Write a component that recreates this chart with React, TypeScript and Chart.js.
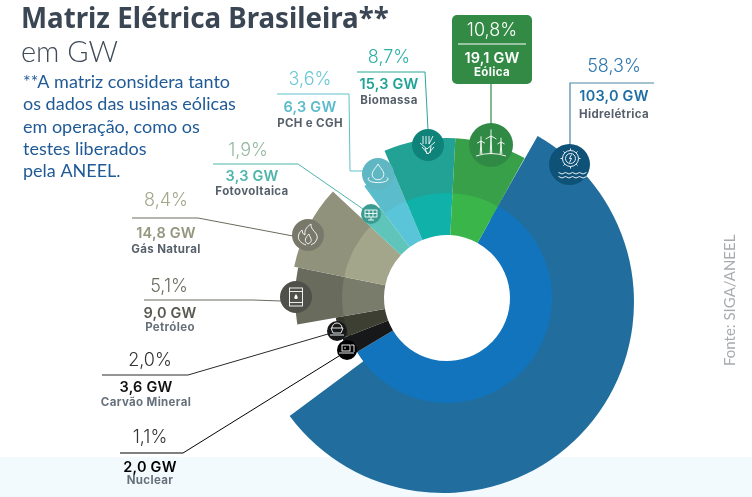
import React, { useEffect, useRef } from "react";
import { Chart, registerables } from "chart.js";

Chart.register(...registerables);

// ---- data ----
const categories = ["Hidrelétrica", "Nuclear", "Carvão Mineral", "Petróleo", "Gás Natural", "Fotovoltaica", "PCH e CGH", "Biomassa", "Eólica"];
const sharePct = [58.3, 1.1, 2.0, 5.1, 8.4, 1.9, 3.6, 8.7, 10.8];
const capacityGW = [103.0, 2.0, 3.6, 9.0, 14.8, 3.3, 6.3, 15.3, 19.1];
// The infographic is not drawn proportionally: these are the sweeps (degrees) as drawn.
const drawnSweepDeg = [210, 10, 11, 21.6, 31.4, 10.5, 13.5, 26, 26];
const noteLines = ["**A matriz considera tanto", "os dados das usinas eólicas", "em operação, como os", "testes liberados", "pela ANEEL."];

// ---- styles and layout ----
const W = 752, H = 497;
const outerColors = ["#216e9e", "#16181a", "#35372d", "#696b5d", "#91927b", "#5cc0b6", "#5bbccb", "#22a295", "#37a048"];
const innerColors = ["#1174bd", "#16181a", "#3d3f33", "#7a7c6b", "#a3a68a", "#5fc5ba", "#5ac5d8", "#10b1a8", "#3ab54a"];
const outerRadii = [191, 112, 113, 152, 156, 113, 139, 160, 160];
const HOLE = 63, RING = 105;
const SANS = '"Inter", "Lato", sans-serif';
const SOFT = '"Lato", "Noto Sans", sans-serif';
const HEAD = '"Noto Sans", "Lato", sans-serif';

type Lab = { pct: [number, number]; gw: [number, number]; nm: [number, number]; pc: string; gc: string; nc: string; };
const labels: Lab[] = [
  { pct: [614, 72], gw: [614, 101], nm: [614, 118], pc: "#2e77ad", gc: "#1f6ea3", nc: "#56606b" },
  { pct: [150, 443], gw: [150, 472], nm: [150, 484], pc: "#333333", gc: "#000000", nc: "#66707a" },
  { pct: [150, 366], gw: [146, 392], nm: [146, 406], pc: "#333333", gc: "#111111", nc: "#66707a" },
  { pct: [169, 292], gw: [170, 318], nm: [170, 331], pc: "#6a6c5f", gc: "#585a50", nc: "#66707a" },
  { pct: [166, 206], gw: [166, 238], nm: [166, 253], pc: "#a3a68a", gc: "#94967e", nc: "#56606b" },
  { pct: [248, 156], gw: [252, 181], nm: [252, 195], pc: "#93b8a0", gc: "#4fb5ab", nc: "#56606b" },
  { pct: [310, 85], gw: [310, 112], nm: [310, 127], pc: "#69c6d4", gc: "#5cbccb", nc: "#56606b" },
  { pct: [389, 63], gw: [389, 89], nm: [389, 104], pc: "#2bb0a5", gc: "#1fa396", nc: "#56606b" },
  { pct: [492, 36], gw: [492, 63], nm: [492, 76], pc: "#ffffff", gc: "#ffffff", nc: "#ffffff" },
];
const leaders: { c: string; w: number; p: number[][] }[] = [
  { c: "#4a85a6", w: 1.2, p: [[654, 83], [570, 83], [570, 146]] },
  { c: "#000000", w: 1, p: [[120, 453], [183, 453], [339, 356]] },
  { c: "#2a2a2a", w: 1, p: [[102, 375], [188, 375], [328, 334]] },
  { c: "#6a6b5e", w: 1, p: [[144, 300], [253, 300], [281, 301]] },
  { c: "#6b6c5c", w: 1, p: [[132, 218], [198, 218], [293, 236]] },
  { c: "#4fb5ab", w: 1, p: [[213, 164], [298, 164], [363, 209]] },
  { c: "#5fc2cc", w: 1, p: [[277, 94], [349, 94], [350, 171], [363, 171]] },
  { c: "#2aa69a", w: 1, p: [[357, 72], [425, 72], [428, 130]] },
  { c: "#308a45", w: 1.2, p: [[491, 84], [491, 124]] },
];
const badges: { x: number; y: number; r: number; c: string }[] = [
  { x: 569.5, y: 164.5, r: 20.5, c: "#0f5278" },
  { x: 347, y: 350, r: 10, c: "#000000" },
  { x: 337, y: 331, r: 10, c: "#16181a" },
  { x: 296, y: 297, r: 16, c: "#4f5049" },
  { x: 308, y: 235, r: 16, c: "#78796a" },
  { x: 371, y: 214, r: 10, c: "#3a9c91" },
  { x: 378, y: 174, r: 16, c: "#5fb7c4" },
  { x: 428, y: 145, r: 16, c: "#0f8279" },
  { x: 491, y: 145, r: 22, c: "#308a45" },
];

const fmt = (v: number) => v.toFixed(1).replace(".", ",");

function poly(ctx: CanvasRenderingContext2D, pts: number[][], close = false) {
  ctx.beginPath();
  pts.forEach((q, i) => (i ? ctx.lineTo(q[0], q[1]) : ctx.moveTo(q[0], q[1])));
  if (close) ctx.closePath();
  ctx.stroke();
}
function turbine(ctx: CanvasRenderingContext2D, x: number, y: number, h: number) {
  const b = h * 0.3;
  poly(ctx, [[x - 0.8, y + h], [x, y], [x + 0.8, y + h]]);
  poly(ctx, [[x, y], [x, y - b * 1.2]]);
  poly(ctx, [[x, y], [x - b, y + b * 0.55]]);
  poly(ctx, [[x, y], [x + b, y + b * 0.55]]);
}
const iconPainters: ((c: CanvasRenderingContext2D, x: number, y: number) => void)[] = [
  (c, x, y) => { // gear and waves
    c.beginPath(); c.arc(x + 1, y - 6, 5, 0, Math.PI * 2); c.stroke();
    c.beginPath(); c.arc(x + 1, y - 6, 8, 0, Math.PI * 2); c.stroke();
    for (let i = 0; i < 8; i++) {
      const a = (i * Math.PI) / 4;
      poly(c, [[x + 1 + 8 * Math.cos(a), y - 6 + 8 * Math.sin(a)], [x + 1 + 10 * Math.cos(a), y - 6 + 10 * Math.sin(a)]]);
    }
    poly(c, [[x + 2, y - 10], [x, y - 6], [x + 2, y - 6], [x, y - 2]]);
    for (const dy of [8, 12]) {
      c.beginPath();
      for (let i = -11; i < 11; i += 7) { c.moveTo(x + i, y + dy); c.quadraticCurveTo(x + i + 3.5, y + dy + 3, x + i + 7, y + dy); }
      c.stroke();
    }
  },
  (c, x, y) => { // nuclear plant
    c.strokeRect(x - 5, y - 5, 8, 6);
    poly(c, [[x - 8, y + 3], [x + 7, y + 3]]);
    poly(c, [[x + 4, y - 5], [x + 7, y - 5], [x + 7, y + 2]]);
    poly(c, [[x - 2, y - 3], [x - 2, y - 1]]);
  },
  (c, x, y) => { // coal wagon
    poly(c, [[x - 6, y - 3], [x + 6, y - 3], [x + 4, y + 2], [x - 4, y + 2]], true);
    poly(c, [[x - 7, y + 4], [x + 7, y + 4]]);
    c.beginPath(); c.arc(x, y - 3, 5, Math.PI, 0); c.stroke();
  },
  (c, x, y) => { // barrel
    c.strokeRect(x - 6.5, y - 9, 13, 18);
    poly(c, [[x - 6.5, y - 5.5], [x + 6.5, y - 5.5]]);
    poly(c, [[x - 6.5, y + 5.5], [x + 6.5, y + 5.5]]);
    c.beginPath(); c.moveTo(x, y - 3); c.quadraticCurveTo(x + 3.5, y + 2, x, y + 2); c.quadraticCurveTo(x - 3.5, y + 2, x, y - 3);
    c.fillStyle = "#ffffff"; c.fill();
  },
  (c, x, y) => { // flames
    c.beginPath(); c.moveTo(x - 2, y + 10);
    c.bezierCurveTo(x - 13, y + 6, x - 10, y - 2, x - 6, y - 5);
    c.quadraticCurveTo(x - 6, y - 1, x - 3, y);
    c.bezierCurveTo(x - 4, y - 6, x, y - 9, x + 3, y - 11);
    c.bezierCurveTo(x + 2, y - 5, x + 11, y - 2, x + 9, y + 4);
    c.quadraticCurveTo(x + 8, y + 8, x + 3, y + 10);
    c.stroke();
    c.beginPath(); c.moveTo(x, y + 9);
    c.bezierCurveTo(x - 5, y + 6, x - 2, y + 2, x + 1, y - 1);
    c.bezierCurveTo(x + 2, y + 3, x + 6, y + 6, x, y + 9);
    c.stroke();
  },
  (c, x, y) => { // solar panel
    poly(c, [[x - 6, y - 4], [x + 6, y - 4], [x + 6, y + 3], [x - 6, y + 3]], true);
    poly(c, [[x - 6, y - 0.5], [x + 6, y - 0.5]]);
    poly(c, [[x - 2, y - 4], [x - 2, y + 3]]);
    poly(c, [[x + 2, y - 4], [x + 2, y + 3]]);
    poly(c, [[x, y + 3], [x, y + 6]]);
    poly(c, [[x - 3, y + 6], [x + 3, y + 6]]);
  },
  (c, x, y) => { // drop and ripple
    c.beginPath(); c.moveTo(x, y - 10);
    c.bezierCurveTo(x + 3, y - 5, x + 7, y - 2, x + 5.5, y + 2);
    c.bezierCurveTo(x + 4, y + 7, x - 4, y + 7, x - 5.5, y + 2);
    c.bezierCurveTo(x - 7, y - 2, x - 3, y - 5, x, y - 10);
    c.stroke();
    c.beginPath(); c.ellipse(x, y + 5, 10, 3.6, 0, -0.15 * Math.PI, 1.15 * Math.PI); c.stroke();
  },
  (c, x, y) => { // biomass plant
    for (const dx of [-5, -2, 1]) poly(c, [[x + dx, y - 9], [x + dx, y - 1]]);
    poly(c, [[x + 5, y - 9], [x + 1, y - 1]]);
    poly(c, [[x - 8, y - 2], [x - 1, y + 4], [x + 7, y - 3]]);
    poly(c, [[x - 6, y + 2], [x, y + 9], [x + 6, y + 2]]);
    poly(c, [[x - 3, y + 3], [x - 1, y + 9]]);
    poly(c, [[x + 3, y + 1], [x + 2, y + 8]]);
  },
  (c, x, y) => { // wind farm
    turbine(c, x, y - 9, 18);
    turbine(c, x - 10, y - 4, 13);
    turbine(c, x + 10, y - 3, 12);
    c.beginPath(); c.moveTo(x - 15, y + 11); c.quadraticCurveTo(x, y + 6, x + 15, y + 11); c.stroke();
  },
];

function text(ctx: CanvasRenderingContext2D, s: string, x: number, y: number, font: string, color: string, align: CanvasTextAlign = "center", spacing = "0px") {
  ctx.font = font;
  ctx.fillStyle = color;
  ctx.textAlign = align;
  ctx.textBaseline = "alphabetic";
  (ctx as any).letterSpacing = spacing;
  ctx.fillText(s, x, y);
}

const shapePlugin = {
  id: "shape",
  beforeDraw(chart: any) {
    const ctx = chart.ctx;
    ctx.save();
    ctx.fillStyle = "#ffffff";
    ctx.fillRect(0, 0, W, H);
    ctx.fillStyle = "#f3fafe";
    ctx.fillRect(0, 457, W, H - 457);
    ctx.restore();
  },
  afterDatasetsUpdate(chart: any) {
    const outer = chart.getDatasetMeta(0).data;
    const inner = chart.getDatasetMeta(1).data;
    // the outer arcs run slightly under the inner ring so no seam shows between them
    outer.forEach((a: any, i: number) => { a.innerRadius = RING - 2; a.outerRadius = outerRadii[i]; });
    inner.forEach((a: any) => { a.innerRadius = HOLE; a.outerRadius = RING; });
    // the big hydro sector sits on a slightly shifted centre in the reference
    const h = outer[0];
    h.x -= 4; h.y += 4; h.innerRadius = 95;
    h.startAngle = ((29.7 - 90) * Math.PI) / 180;
    h.endAngle = ((233.4 - 90) * Math.PI) / 180;
    h.circumference = h.endAngle - h.startAngle;
  },
  afterDraw(chart: any) {
    const ctx: CanvasRenderingContext2D = chart.ctx;
    ctx.save();
    // Eólica card
    ctx.fillStyle = "#328a44";
    ctx.beginPath();
    (ctx as any).roundRect(452, 15, 80, 69, 5);
    ctx.fill();
    ctx.strokeStyle = "#ffffff"; ctx.lineWidth = 1;
    poly(ctx, [[458, 44], [526, 44]]);
    // leader lines
    leaders.forEach((l) => { ctx.strokeStyle = l.c; ctx.lineWidth = l.w; poly(ctx, l.p); });
    // icon badges
    badges.forEach((b, i) => {
      ctx.fillStyle = b.c;
      ctx.beginPath(); ctx.arc(b.x, b.y, b.r, 0, Math.PI * 2); ctx.fill();
      ctx.strokeStyle = "#ffffff"; ctx.lineWidth = 0.9;
      iconPainters[i](ctx, b.x, b.y);
    });
    // title and note
    text(ctx, "Matriz Elétrica Brasileira**", 21, 28, `700 27.7px ${HEAD}`, "#3a4653", "left");
    text(ctx, "em GW", 21, 62, `300 29px ${SOFT}`, "#3e4a57", "left");
    noteLines.forEach((s, i) => text(ctx, s, 23, 88 + i * 22.3, `400 18px ${SOFT}`, "#1f5a96", "left"));
    // category labels
    categories.forEach((name, i) => {
      const l = labels[i];
      text(ctx, fmt(sharePct[i]) + "%", l.pct[0], l.pct[1], `300 18px ${SANS}`, l.pc);
      text(ctx, fmt(capacityGW[i]) + " GW", l.gw[0], l.gw[1], `600 14.5px ${SANS}`, l.gc, "center", "0.2px");
      text(ctx, name, l.nm[0], l.nm[1], `700 11.5px ${SANS}`, l.nc, "center", "0.35px");
    });
    // source
    ctx.translate(735, 366);
    ctx.rotate(-Math.PI / 2);
    text(ctx, "Fonte: SIGA/ANEEL", 0, 0, `400 15px ${SOFT}`, "#a8acb0", "left");
    ctx.restore();
  },
};

export default function App() {
  const ref = useRef<HTMLCanvasElement | null>(null);
  useEffect(() => {
    document.body.style.margin = "0";
    const chart = new Chart(ref.current as HTMLCanvasElement, {
      type: "doughnut",
      data: {
        labels: categories,
        datasets: [
          { data: drawnSweepDeg, backgroundColor: outerColors, borderWidth: 0, weight: 94, order: 2 } as any,
          { data: drawnSweepDeg, backgroundColor: innerColors, borderWidth: 0, weight: 42, order: 1 } as any,
        ],
      },
      options: {
        responsive: false,
        animation: false,
        rotation: 29,
        cutout: HOLE,
        layout: { padding: { left: 142, top: 99, right: 0, bottom: 0 } },
        plugins: { legend: { display: false }, tooltip: { enabled: false } },
      },
      plugins: [shapePlugin],
    });
    return () => chart.destroy();
  }, []);
  return <canvas ref={ref} width={W} height={H} style={{ display: "block", width: W, height: H }} />;
}
